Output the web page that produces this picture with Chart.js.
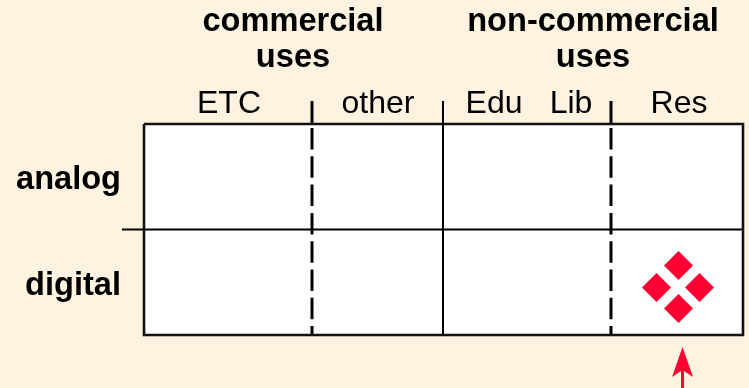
<!DOCTYPE html>
<html lang="en">
<head>
<meta charset="UTF-8">
<title>Uses matrix</title>
<style>
    html, body { margin: 0; padding: 0; background: #FEF2E1; }
    #wrap { width: 749px; height: 388px; }
    canvas { display: block; }
</style>
<script src="https://cdn.jsdelivr.net/npm/chart.js@4"></script>
</head>
<body>
<div id="wrap"><canvas id="chart"></canvas></div>
<script>
// x and y run in grid units, origin at the top left of the box
var columnLabels = ['ETC', 'other', 'Edu', 'Lib', 'Res'];
var columnCentres = [85, 234, 350, 427, 535];
var rowLabels = ['analog', 'digital'];
var rowCentres = [56.5, 162.5];
var groupLabels = [['commercial', 'uses'], ['non-commercial', 'uses']];
var groupCentres = [149, 449];
var dashedDividers = [168, 467];
var solidDivider = 299;
var rowDivider = 105.5;
var rowDividerStart = -22;
var stubTop = -23;
var xMax = 599;
var yMax = 211;
var marksX = [534.5, 512.5, 555.5, 534.5];
var marksY = [141.5, 163.5, 163.5, 184.5];
var arrowX = 538.5;
var arrowTip = 223;
var arrowBase = 264;

var RED = '#FF0033';
var FONT = '"Liberation Sans", Arial, sans-serif';

function vline(x, y0, y1, width, dash) {
    return {
        type: 'line',
        data: [{ x: x, y: y0 }, { x: x, y: y1 }],
        borderColor: '#000',
        borderWidth: width,
        borderDash: dash || [],
        pointRadius: 0,
        clip: false
    };
}

var datasets = [];
// box outline
datasets.push({
    type: 'line',
    data: [{ x: 0, y: 0 }, { x: xMax, y: 0 }, { x: xMax, y: yMax }, { x: 0, y: yMax }, { x: 0, y: 0 }],
    borderColor: '#111',
    borderWidth: 2.6,
    pointRadius: 0,
    clip: false
});
// row split, sticks out to the left
datasets.push({
    type: 'line',
    data: [{ x: rowDividerStart, y: rowDivider }, { x: xMax, y: rowDivider }],
    borderColor: '#000',
    borderWidth: 2,
    pointRadius: 0,
    clip: false
});
datasets.push(vline(solidDivider, stubTop, yMax, 2));
dashedDividers.forEach(function (x) {
    datasets.push(vline(x, stubTop, 0, 3));
    datasets.push(vline(x, 4, yMax, 3, [21.5, 6.8]));
});
// arrow shaft
datasets.push(vline(arrowX, arrowTip + 20, arrowBase, 3));
datasets[datasets.length - 1].borderColor = RED;
// the four diamonds
datasets.push({
    type: 'scatter',
    data: marksX.map(function (x, i) { return { x: x, y: marksY[i] }; }),
    pointStyle: 'rectRot',
    pointRadius: 14.5,
    pointBorderWidth: 0,
    pointBackgroundColor: RED,
    clip: false
});

var extras = {
    id: 'extras',
    beforeDraw: function (chart) {
        var a = chart.chartArea, c = chart.ctx;
        c.save();
        c.fillStyle = '#fff';
        c.fillRect(a.left, a.top, a.right - a.left, a.bottom - a.top);
        c.restore();
    },
    afterDraw: function (chart) {
        var c = chart.ctx, sx = chart.scales.x, sy = chart.scales.y;
        c.save();
        // group headers
        c.fillStyle = '#000';
        c.font = 'bold 32.6px ' + FONT;
        c.textAlign = 'center';
        c.textBaseline = 'alphabetic';
        groupLabels.forEach(function (lines, i) {
            lines.forEach(function (t, j) {
                c.fillText(t, sx.getPixelForValue(groupCentres[i]), 31 + j * 36);
            });
        });
        // arrow head
        var ax = sx.getPixelForValue(arrowX), ay = sy.getPixelForValue(arrowTip);
        c.fillStyle = RED;
        c.beginPath();
        c.moveTo(ax, ay);
        c.lineTo(ax + 10.5, ay + 30);
        c.lineTo(ax, ay + 23);
        c.lineTo(ax - 10.5, ay + 30);
        c.closePath();
        c.fill();
        c.restore();
    }
};

new Chart(document.getElementById('chart'), {
    data: { datasets: datasets },
    plugins: [extras],
    options: {
        responsive: true,
        maintainAspectRatio: false,
        animation: false,
        // the big diamonds would otherwise pad the chart area
        layout: { autoPadding: false, padding: { left: 0, top: 0, right: 6, bottom: 53 } },
        plugins: { legend: { display: false }, tooltip: { enabled: false } },
        scales: {
            x: {
                type: 'linear',
                position: 'top',
                min: 0,
                max: xMax,
                afterBuildTicks: function (s) { s.ticks = columnCentres.map(function (v) { return { value: v }; }); },
                afterFit: function (s) { s.height = 124; s.paddingLeft = 0; s.paddingRight = 0; },
                grid: { display: false, drawTicks: false },
                border: { display: false },
                ticks: {
                    autoSkip: false,
                    maxRotation: 0,
                    padding: 1,
                    color: '#000',
                    font: { family: FONT, size: 32 },
                    callback: function (v) { return columnLabels[columnCentres.indexOf(v)]; }
                }
            },
            y: {
                type: 'linear',
                reverse: true,
                min: 0,
                max: yMax,
                afterBuildTicks: function (s) { s.ticks = rowCentres.map(function (v) { return { value: v }; }); },
                afterFit: function (s) { s.width = 144; s.paddingTop = 0; s.paddingBottom = 0; },
                grid: { display: false, drawTicks: false },
                border: { display: false },
                ticks: {
                    autoSkip: false,
                    padding: 23,
                    color: '#000',
                    font: { family: FONT, size: 32.6, weight: 'bold' },
                    callback: function (v) { return rowLabels[rowCentres.indexOf(v)]; }
                }
            }
        }
    }
});
</script>
</body>
</html>
